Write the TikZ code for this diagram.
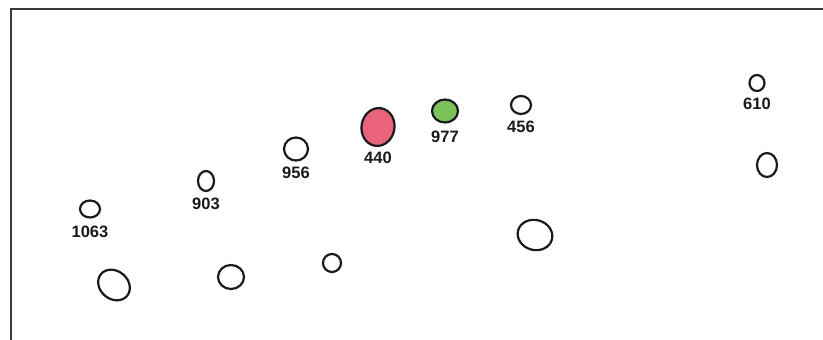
\documentclass[tikz,border=0pt]{standalone}
\usepackage{fontspec}
\setmainfont{Liberation Sans}
\usepackage{tikz}
\usetikzlibrary{positioning,shapes.geometric}
\definecolor{ink}{HTML}{1A1A1A}
\definecolor{frame}{HTML}{3A3A3A}
\definecolor{hotpink}{HTML}{E9647A}
\definecolor{leafgreen}{HTML}{7CC25A}

\tikzset{
  cell/.style={draw=ink,ellipse,line width=2.2pt,inner sep=0pt},
  tag/.style={font=\fontsize{16.5}{18}\selectfont\bfseries,text=ink,inner sep=0pt}
}

\begin{document}
\begin{tikzpicture}[x=1pt,y=-1pt]
\useasboundingbox (0,0) rectangle (823,340);
% frame
\draw[frame,line width=2.4pt] (11,340) -- (11,9) -- (823,9);

% labelled cells
\node[cell,minimum width=20pt,minimum height=17pt] (c1063) at (90,209) {};
\node[tag,below=7pt of c1063] (t1063) {1063};
\node[cell,minimum width=16pt,minimum height=20pt] (c903) at (206,181) {};
\node[tag,below=6pt of c903] (t903) {903};
\node[cell,minimum width=24pt,minimum height=23pt] (c956) at (296,149) {};
\node[tag,below=5pt of c956] (t956) {956};
\node[cell,fill=hotpink,minimum width=33pt,minimum height=38pt,rotate=-10] (c440) at (378,127) {};
\node[tag,below=6pt of c440.center,yshift=-19pt] (t440) {440};
\node[cell,fill=leafgreen,minimum width=26pt,minimum height=23pt] (c977) at (445,111) {};
\node[tag,below=7pt of c977] (t977) {977};
\node[cell,minimum width=20pt,minimum height=18pt] (c456) at (521,105) {};
\node[tag,below=6pt of c456] (t456) {456};
\node[cell,minimum width=15pt,minimum height=16pt] (c610) at (757,83) {};
\node[tag,below=6pt of c610] (t610) {610};

% unlabelled cells
\node[cell,minimum width=20pt,minimum height=24pt] (u1) at (767,165) {};
\node[cell,minimum width=35pt,minimum height=30pt,rotate=-15] (u2) at (535,235) {};
\node[cell,minimum width=18pt,minimum height=18pt] (u3) at (332,263) {};
\node[cell,minimum width=26pt,minimum height=24pt] (u4) at (231,277) {};
\node[cell,minimum width=34pt,minimum height=28pt,rotate=-40] (u5) at (114,285) {};
\end{tikzpicture}
\end{document}
